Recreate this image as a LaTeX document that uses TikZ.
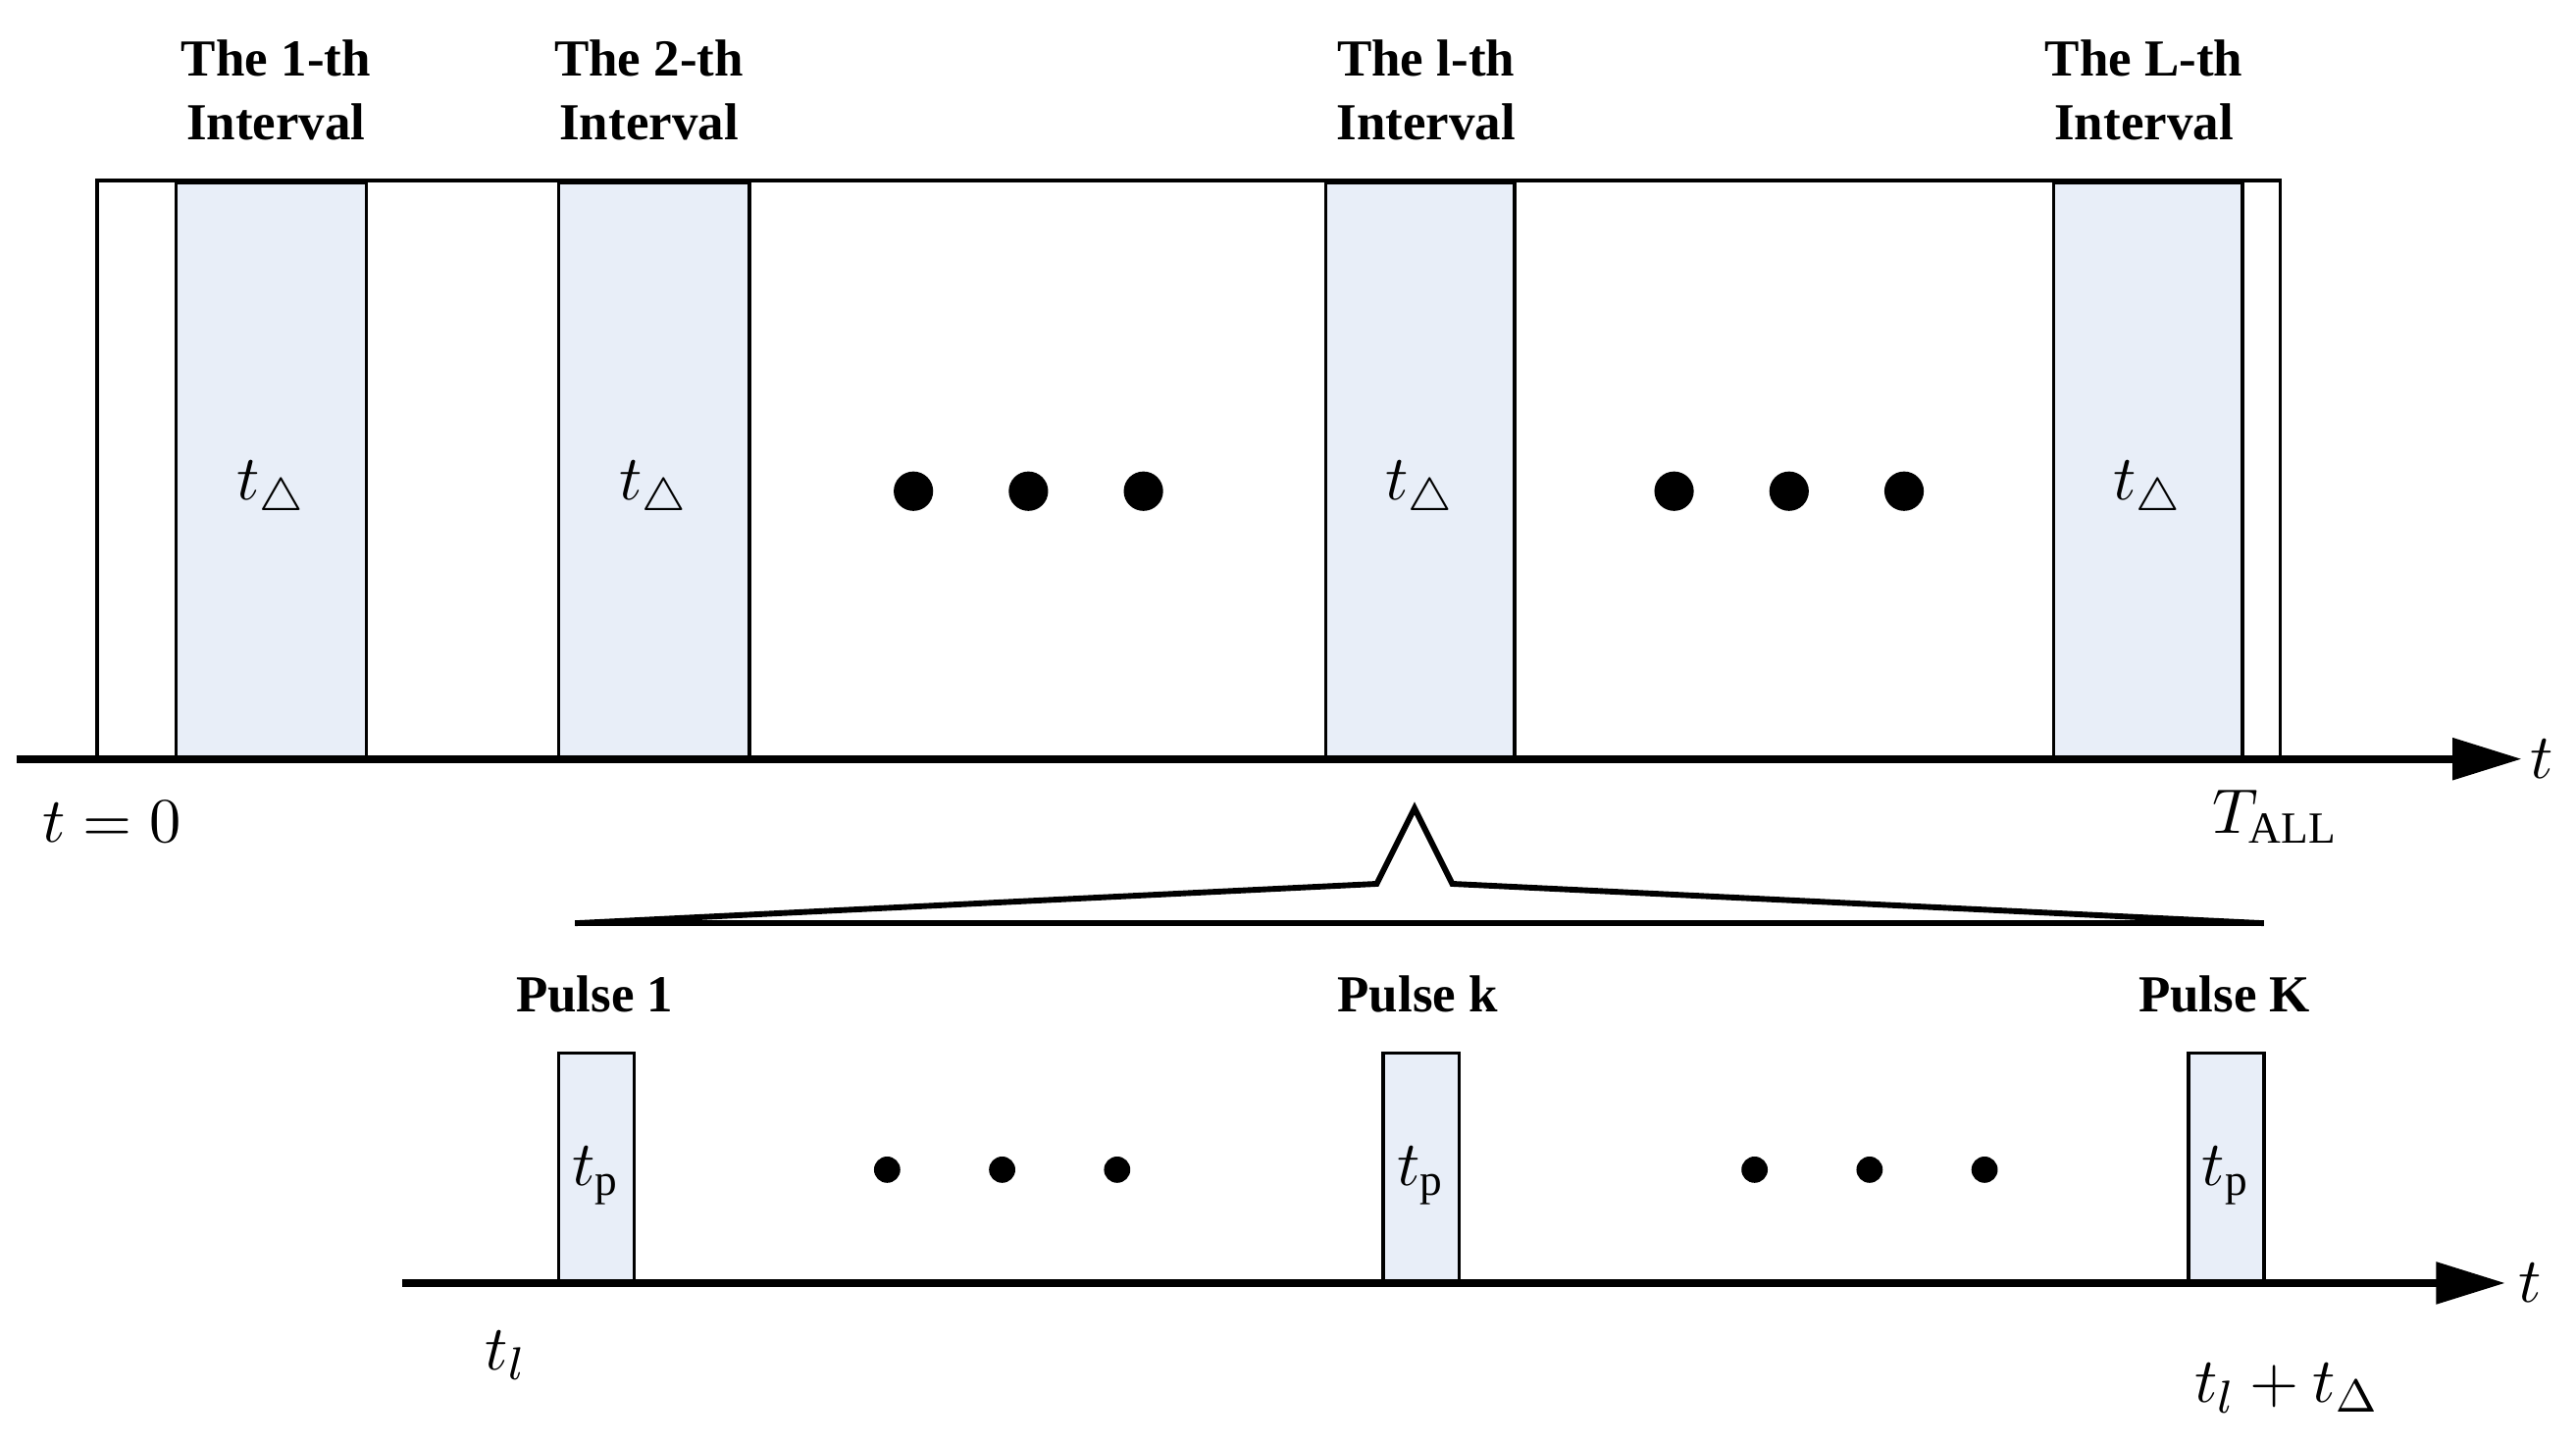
\documentclass[tikz,border=0pt]{standalone}
\usepackage{fontspec}
\setmainfont{Liberation Serif}
\usetikzlibrary{arrows.meta}
\definecolor{boxfill}{HTML}{E8EEF8}
\begin{document}
\begin{tikzpicture}[x=0.1mm,y=-0.1mm,
  box/.style={draw,line width=0.6pt,fill=boxfill},
  hd/.style={font=\bfseries\fontsize{9}{11}\selectfont,align=center},
  ml/.style={font=\fontsize{11}{13}\selectfont},
  axis/.style={line width=1.4pt,-{Triangle[length=12pt,width=7pt]}},
  dotb/.style={fill=black,circle,inner sep=0pt,minimum size=2.4mm},
  dots/.style={fill=black,circle,inner sep=0pt,minimum size=1.6mm}]
\useasboundingbox (0,0) rectangle (1568,878);
\draw[line width=0.6pt] (59,110) rectangle (1388,461);
\foreach \a/\b/\n in {106/222/1,339/455/2,806/921/3,1249/1364/4}{
  \node[box,minimum width={(\b-\a)*0.1mm},minimum height=35.1mm,anchor=north west,inner sep=0pt] (b\n) at (\a,110) {};
  \node[ml] at ([yshift=-1.2mm]b\n.center) {$t_{\triangle}$};
}
\node[hd] (h1) at (168,55) {The 1-th\\Interval};
\node[hd] (h2) at (395,55) {The 2-th\\Interval};
\node[hd] (h3) at (868,55) {The l-th\\Interval};
\node[hd] (h4) at (1305,55) {The L-th\\Interval};
\foreach \x [count=\i] in {556,626,696,1019,1089,1159}{\node[dotb] (d\i) at (\x,299) {};}
\coordinate (a0) at (10,462); \coordinate (a1) at (1535,462);
\draw[axis] (a0) -- (a1);
\node[ml] at (1547,462) {$t$};
\node[ml] at (68,500) {$t=0$};
\node[ml] at (1385,497) {$T_{\mathrm{ALL}}$};
\coordinate (s0) at (350,562); \coordinate (s1) at (1378,562);
\coordinate (p1) at (838,538); \coordinate (p2) at (861,492); \coordinate (p3) at (884,538);
\draw[line width=1pt] (s0) -- (s1);
\draw[line width=1pt] (s0) -- (p1) -- (p2) -- (p3) -- (s1);
\node[hd] at (362,605) {Pulse 1};
\node[hd] at (863,605) {Pulse k};
\node[hd] at (1354,605) {Pulse K};
\foreach \a/\n in {339/1,841/2,1331/3}{
  \node[box,minimum width=4.6mm,minimum height=13.9mm,anchor=north west,inner sep=0pt] (q\n) at (\a,640) {};
  \node[ml] at ([yshift=-0.5mm]q\n.center) {$t_{\mathrm{p}}$};
}
\foreach \x [count=\i] in {540,610,680,1068,1138,1208}{\node[dots] (e\i) at (\x,712) {};}
\coordinate (c0) at (245,781); \coordinate (c1) at (1525,781);
\draw[axis] (c0) -- (c1);
\node[ml] at (1540,781) {$t$};
\node[ml] at (308,825) {$t_l$};
\node[ml] at (1392,845) {$t_l+t_{\Delta}$};
\end{tikzpicture}
\end{document}
